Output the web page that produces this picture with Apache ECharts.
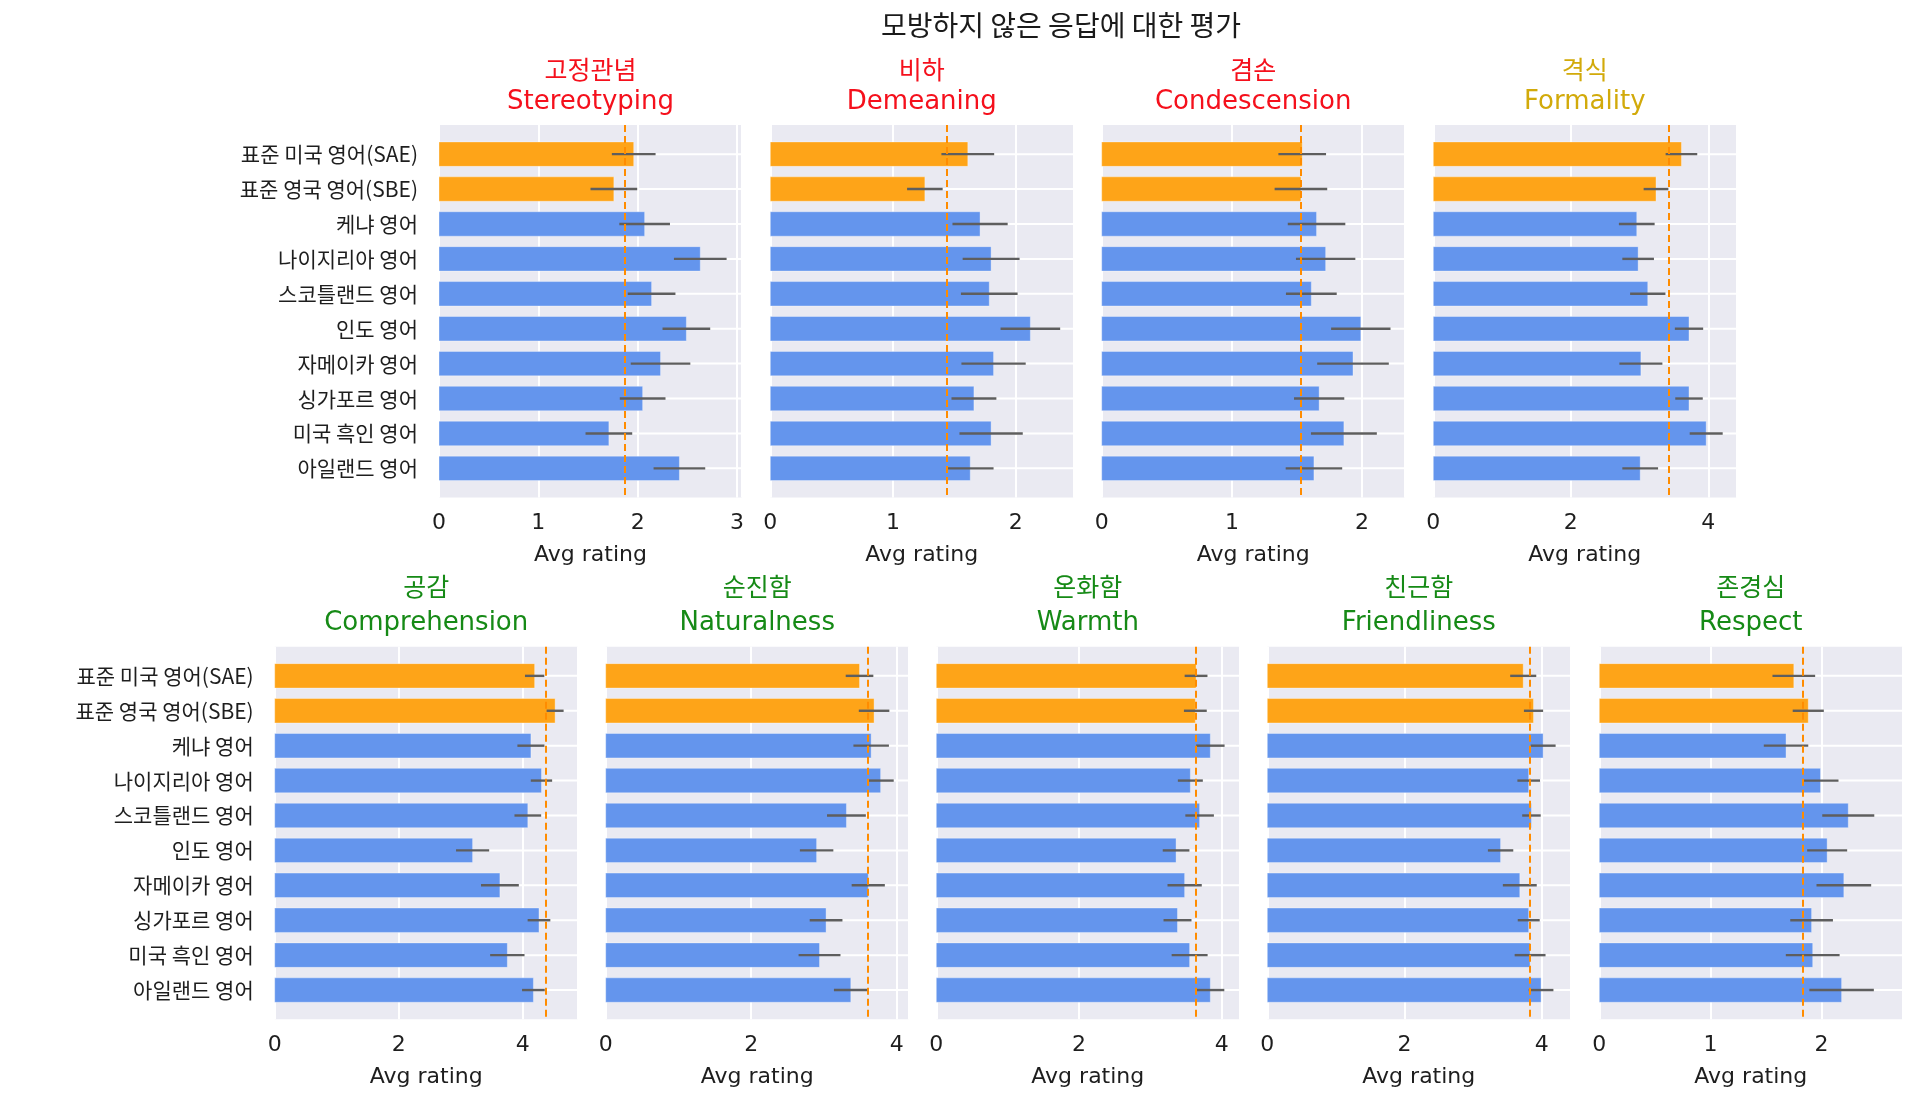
<!DOCTYPE html>
<html>
<head>
<meta charset="utf-8">
<script src="https://cdn.jsdelivr.net/npm/echarts@6/dist/echarts.min.js"></script>
<style>
html,body{margin:0;padding:0;background:#fff;}
#chart{width:1910px;height:1103px;}
</style>
</head>
<body>
<div id="chart"></div>
<script>
// ---------- data ----------
const categories = ['표준 미국 영어(SAE)', '표준 영국 영어(SBE)', '케냐 영어', '나이지리아 영어', '스코틀랜드 영어', '인도 영어', '자메이카 영어', '싱가포르 영어', '미국 흑인 영어', '아일랜드 영어'];
const categoryGroup = ['standard', 'standard', 'other', 'other', 'other', 'other', 'other', 'other', 'other', 'other'];

const mainTitle = '모방하지 않은 응답에 대한 평가';
const metricKorean = ['고정관념', '비하', '겸손', '격식', '공감', '순진함', '온화함', '친근함', '존경심'];
const metricEnglish = ['Stereotyping', 'Demeaning', 'Condescension', 'Formality', 'Comprehension', 'Naturalness', 'Warmth', 'Friendliness', 'Respect'];
const xAxisName = 'Avg rating';

const stereotypingMean = [1.96, 1.76, 2.07, 2.63, 2.14, 2.49, 2.23, 2.05, 1.71, 2.42];
const stereotypingErr  = [0.22, 0.235, 0.255, 0.265, 0.24, 0.24, 0.30, 0.23, 0.235, 0.26];
const demeaningMean    = [1.61, 1.26, 1.71, 1.80, 1.785, 2.12, 1.82, 1.66, 1.80, 1.63];
const demeaningErr     = [0.215, 0.145, 0.225, 0.232, 0.231, 0.243, 0.262, 0.183, 0.258, 0.19];
const condescensionMean = [1.54, 1.53, 1.65, 1.72, 1.61, 1.99, 1.93, 1.67, 1.86, 1.63];
const condescensionErr  = [0.183, 0.202, 0.221, 0.228, 0.195, 0.228, 0.275, 0.193, 0.253, 0.217];
const formalityMean    = [3.61, 3.24, 2.96, 2.98, 3.12, 3.72, 3.02, 3.72, 3.97, 3.01];
const formalityErr     = [0.23, 0.18, 0.26, 0.23, 0.257, 0.206, 0.313, 0.20, 0.24, 0.26];
const comprehensionMean = [4.19, 4.52, 4.13, 4.30, 4.08, 3.19, 3.63, 4.26, 3.75, 4.17];
const comprehensionErr  = [0.156, 0.137, 0.218, 0.172, 0.215, 0.267, 0.305, 0.183, 0.277, 0.183];
const naturalnessMean  = [3.49, 3.69, 3.65, 3.78, 3.31, 2.90, 3.61, 3.03, 2.94, 3.37];
const naturalnessErr   = [0.19, 0.21, 0.244, 0.18, 0.267, 0.23, 0.228, 0.225, 0.288, 0.232];
const warmthMean       = [3.64, 3.63, 3.84, 3.56, 3.69, 3.36, 3.48, 3.38, 3.55, 3.84];
const warmthErr        = [0.16, 0.16, 0.20, 0.175, 0.20, 0.187, 0.24, 0.196, 0.252, 0.196];
const friendlinessMean = [3.73, 3.88, 4.02, 3.81, 3.85, 3.40, 3.68, 3.81, 3.83, 3.99];
const friendlinessErr  = [0.19, 0.14, 0.182, 0.165, 0.135, 0.185, 0.247, 0.16, 0.225, 0.18];
const respectMean      = [1.75, 1.88, 1.68, 1.99, 2.24, 2.05, 2.20, 1.91, 1.92, 2.18];
const respectErr       = [0.192, 0.14, 0.20, 0.162, 0.234, 0.18, 0.246, 0.192, 0.242, 0.29];

// dashed reference line per panel
const referenceLine = [1.87, 1.44, 1.535, 3.427, 4.367, 3.605, 3.63, 3.82, 1.826];
// x axis range and tick labels per panel
const xAxisMax = [3.05, 2.47, 2.327, 4.408, 4.884, 4.166, 4.246, 4.416, 2.726];
const xTickStep = [1, 1, 1, 2, 2, 2, 2, 2, 1];
const xTickLabels = [[0,1,2,3],[0,1,2],[0,1,2],[0,2,4],[0,2,4],[0,2,4],[0,2,4],[0,2,4],[0,1,2]];

const means = [stereotypingMean, demeaningMean, condescensionMean, formalityMean, comprehensionMean, naturalnessMean, warmthMean, friendlinessMean, respectMean];
const errs  = [stereotypingErr, demeaningErr, condescensionErr, formalityErr, comprehensionErr, naturalnessErr, warmthErr, friendlinessErr, respectErr];

// ---------- styles / layout ----------
const titleColors = ['#f5101c', '#f5101c', '#f5101c', '#d2aa0a', '#168a16', '#168a16', '#168a16', '#168a16', '#168a16'];
const groupColor = { standard: '#fea418', other: '#6495ed' };
const FONT_CJK = "'Noto Sans CJK KR', 'Noto Sans', sans-serif";
const FONT_LAT = "'DejaVu Sans', 'Noto Sans CJK KR', sans-serif";
const TEXT = '#1e1e1e';

const panelLeft = [439, 770.3, 1101.7, 1433.3, 274.7, 605.7, 936.3, 1267.3, 1599.3];
const panelTop  = [125, 125, 125, 125, 646.7, 646.7, 646.7, 646.7, 646.7];
const panelW = 303, panelH = 372.5;
const firstInRow = [true, false, false, false, true, false, false, false, false];
const koreanTitleY = [69, 69, 69, 69, 586, 586, 586, 586, 586];
const englishTitleY = [102, 102, 102, 102, 623, 623, 623, 623, 623];
const BAR_H = 0.7;

const grids = [], xAxes = [], yAxes = [], series = [], titles = [];

titles.push({
  text: mainTitle, left: 1061, top: 8, textAlign: 'center', padding: 0,
  textStyle: { fontFamily: FONT_CJK, fontSize: 28, fontWeight: 'normal', color: '#1a1a1a', lineHeight: 34 }
});

for (let p = 0; p < 9; p++) {
  const cx = panelLeft[p] + panelW / 2;
  titles.push({
    text: metricKorean[p], left: cx, top: koreanTitleY[p] - 16, textAlign: 'center', padding: 0,
    textStyle: { fontFamily: FONT_CJK, fontSize: 25, fontWeight: 'normal', color: titleColors[p], lineHeight: 32 }
  });
  titles.push({
    text: metricEnglish[p], left: cx, top: englishTitleY[p] - 16, textAlign: 'center', padding: 0,
    textStyle: { fontFamily: FONT_LAT, fontSize: 26, fontWeight: 'normal', color: titleColors[p], lineHeight: 32 }
  });

  grids.push({ left: panelLeft[p], top: panelTop[p], width: panelW, height: panelH,
    show: true, backgroundColor: '#eaeaf2', borderWidth: 0, containLabel: false });

  xAxes.push({
    gridIndex: p, type: 'value', min: 0, max: xAxisMax[p], interval: xTickStep[p],
    axisLine: { show: false }, axisTick: { show: false },
    splitLine: { show: true, lineStyle: { color: '#ffffff', width: 2 } },
    axisLabel: { customValues: xTickLabels[p], fontFamily: FONT_LAT, fontSize: 22, color: TEXT, margin: 15 },
    name: xAxisName, nameLocation: 'middle', nameGap: 47,
    nameTextStyle: { fontFamily: FONT_LAT, fontSize: 22, color: TEXT }
  });

  yAxes.push({
    gridIndex: p, type: 'value', inverse: true, min: -0.835, max: 9.835,
    axisLine: { show: false }, axisTick: { show: false }, splitLine: { show: false },
    axisLabel: {
      show: firstInRow[p], customValues: categories.map((c, i) => i),
      formatter: v => categories[Math.round(v)] || '',
      fontFamily: FONT_CJK, fontSize: 21, color: TEXT, margin: 21
    }
  });

  const data = means[p].map((m, i) => [m, i, errs[p][i]]);
  series.push({
    type: 'custom', xAxisIndex: p, yAxisIndex: p, data: data,
    renderItem: function (params, api) {
      const v = api.value(0), idx = api.value(1), e = api.value(2);
      const cs = params.coordSys;
      const c0 = api.coord([0, idx]);
      const c1 = api.coord([v, idx]);
      const h = api.size([0, BAR_H])[1];
      const eL = api.coord([v - e, idx]);
      const eR = api.coord([v + e, idx]);
      const color = groupColor[categoryGroup[idx]];
      return {
        type: 'group',
        children: [
          { type: 'line', shape: { x1: cs.x, y1: c0[1], x2: cs.x + cs.width, y2: c0[1] },
            style: { stroke: '#ffffff', lineWidth: 2 } },
          { type: 'rect', shape: { x: c0[0], y: c0[1] - h / 2, width: c1[0] - c0[0], height: h },
            style: { fill: color, stroke: 'rgba(255,255,255,0.35)', lineWidth: 1 } },
          { type: 'line', shape: { x1: eL[0], y1: c0[1], x2: eR[0], y2: c0[1] },
            style: { stroke: '#5e5e5e', lineWidth: 2.4 } }
        ]
      };
    },
    markLine: {
      silent: true, symbol: 'none', animation: false,
      label: { show: false },
      lineStyle: { color: '#ff8c00', width: 2, type: [7, 4] },
      data: [{ xAxis: referenceLine[p] }]
    },
    animation: false
  });
}

const chart = echarts.init(document.getElementById('chart'));
chart.setOption({
  animation: false,
  backgroundColor: '#ffffff',
  title: titles,
  grid: grids,
  xAxis: xAxes,
  yAxis: yAxes,
  series: series
});
</script>
</body>
</html>
